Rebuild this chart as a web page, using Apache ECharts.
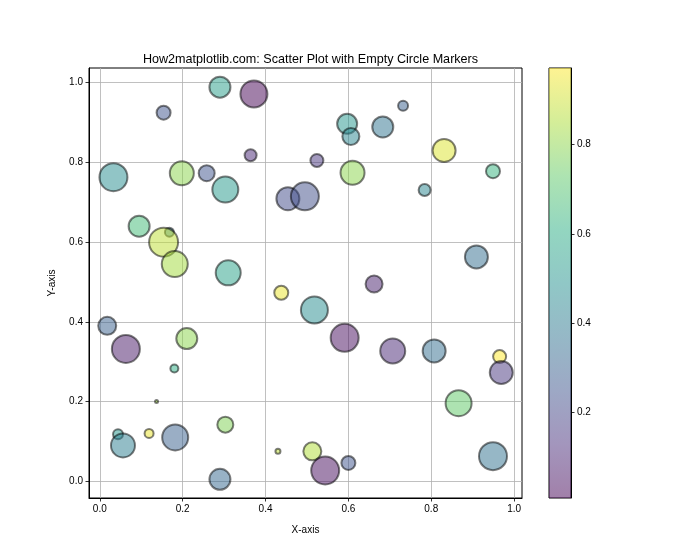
<!DOCTYPE html>
<html><head><meta charset="utf-8">
<script src="https://cdn.jsdelivr.net/npm/echarts@6/dist/echarts.min.js"></script>
<style>html,body{margin:0;padding:0;background:#fff}#c{width:700px;height:560px}</style>
</head><body><div id="c"></div>
<script>
// ---- data ----
const xs = [0.290,0.372,0.154,0.364,0.033,0.198,0.258,0.303,0.454,0.495,
            0.095,0.168,0.154,0.181,0.310,0.732,0.597,0.606,0.683,0.831,
            0.524,0.610,0.949,0.784,0.909,0.438,0.018,0.063,0.210,0.180,
            0.137,0.044,0.056,0.119,0.182,0.303,0.290,0.430,0.662,0.518,
            0.591,0.707,0.807,0.965,0.969,0.866,0.513,0.544,0.600,0.949];
const ys = [0.989,0.972,0.925,0.818,0.763,0.773,0.773,0.732,0.709,0.715,
            0.640,0.625,0.600,0.545,0.523,0.942,0.897,0.865,0.889,0.830,
            0.805,0.774,0.778,0.731,0.563,0.473,0.390,0.332,0.358,0.283,
            0.200,0.118,0.090,0.120,0.110,0.142,0.005,0.075,0.495,0.430,
            0.360,0.327,0.327,0.313,0.273,0.196,0.075,0.027,0.046,0.063];
const cs = [0.538,0.009,0.250,0.106,0.471,0.798,0.250,0.519,0.221,0.231,
            0.663,0.394,0.875,0.836,0.558,0.298,0.509,0.442,0.375,0.923,
            0.154,0.798,0.634,0.442,0.346,0.942,0.298,0.067,0.798,0.606,
            0.827,0.509,0.413,0.942,0.298,0.779,0.327,0.875,0.086,0.471,
            0.038,0.106,0.346,0.971,0.154,0.731,0.856,0.038,0.250,0.365];
const sizes = [23,29,16,14,30,26,18,28,25,30,
               23,11,31,28,27,12,22,19,23,25,
               15,26,16,14,25,16,20,30,23,10,
               5,12,26,11,28,18,23,7,19,29,
               30,27,25,15,25,28,20,30,16,30];
const xTicks = [0,0.2,0.4,0.6,0.8,1.0];
const yTicks = [0,0.2,0.4,0.6,0.8,1.0];
const cbTicks = [0.2,0.4,0.6,0.8];
const titleText = 'How2matplotlib.com: Scatter Plot with Empty Circle Markers';

// ---- chart ----
const FONT = 'Liberation Sans';
const viridis = ['#440154','#472c7a','#3b518b','#2c718e','#21908d','#27ad81','#5cc863','#aadc32','#fde725'];
const cMin = Math.min(...cs), cMax = Math.max(...cs);
const data = xs.map((x,i)=>[x, ys[i], cs[i], sizes[i]]);
const lbl = {fontFamily:FONT,fontSize:10,color:'#000'};
const fmt = v => v.toFixed(1);

const chart = echarts.init(document.getElementById('c'), null, {renderer:'canvas'});
chart.setOption({
  animation:false,
  backgroundColor:'#fff',
  title:{text:titleText,left:305.5,top:48,textAlign:'center',
         textStyle:{fontFamily:FONT,fontSize:12.6,fontWeight:'normal',color:'#000'}},
  grid:[
    {left:89,right:178,top:68,bottom:62,show:true,borderColor:'#000',borderWidth:1,backgroundColor:'transparent'},
    {left:549,width:22,top:68,bottom:62,show:true,borderColor:'#000',borderWidth:1,backgroundColor:'transparent'}
  ],
  visualMap:{show:false,type:'continuous',min:cMin,max:cMax,dimension:2,seriesIndex:0,inRange:{color:viridis}},
  xAxis:[
    {type:'value',gridIndex:0,min:-0.026,max:1.019,name:'X-axis',nameLocation:'middle',nameGap:27,
     nameTextStyle:lbl,
     axisLine:{show:true,onZero:false,lineStyle:{color:'#000',width:1}},
     axisTick:{show:true,customValues:xTicks,length:3.5,lineStyle:{color:'#000',width:0.8}},
     axisLabel:{customValues:xTicks,formatter:fmt,margin:6,...lbl},
     splitLine:{show:true,lineStyle:{color:'#b0b0b0',width:0.8}}},
    {type:'value',gridIndex:1,min:0,max:1,show:false}
  ],
  yAxis:[
    {type:'value',gridIndex:0,min:-0.042,max:1.037,name:'Y-axis',nameLocation:'middle',nameGap:32,
     nameTextStyle:lbl,
     axisLine:{show:true,onZero:false,lineStyle:{color:'#000',width:1}},
     axisTick:{show:true,customValues:yTicks,length:3.5,lineStyle:{color:'#000',width:0.8}},
     axisLabel:{customValues:yTicks,formatter:fmt,margin:6,...lbl},
     splitLine:{show:true,lineStyle:{color:'#b0b0b0',width:0.8}}},
    {type:'value',gridIndex:1,min:cMin,max:cMax,position:'right',
     axisLine:{show:true,onZero:false,lineStyle:{color:'#000',width:1}},
     axisTick:{show:true,inside:false,customValues:cbTicks,length:3.5,lineStyle:{color:'#000',width:0.8}},
     axisLabel:{customValues:cbTicks,formatter:fmt,margin:6,...lbl},
     splitLine:{show:false}}
  ],
  series:[
    {type:'scatter',xAxisIndex:0,yAxisIndex:0,data:data,symbol:'circle',
     symbolSize:v=>v[3]-2,
     itemStyle:{opacity:0.5,borderColor:'#000',borderWidth:2},
     emphasis:{disabled:true},silent:true},
    {type:'custom',xAxisIndex:1,yAxisIndex:1,silent:true,
     data:[[0,cMax,1,cMin]],
     renderItem:(params,api)=>{
       const p1 = api.coord([api.value(0),api.value(1)]);
       const p2 = api.coord([api.value(2),api.value(3)]);
       const stops = viridis.slice().reverse().map((c,i)=>({offset:i/(viridis.length-1),color:c}));
       return {type:'rect',shape:{x:p1[0],y:p1[1],width:p2[0]-p1[0],height:p2[1]-p1[1]},
               style:{fill:new echarts.graphic.LinearGradient(0,0,0,1,stops),opacity:0.5}};
     }}
  ]
});
</script></body></html>
